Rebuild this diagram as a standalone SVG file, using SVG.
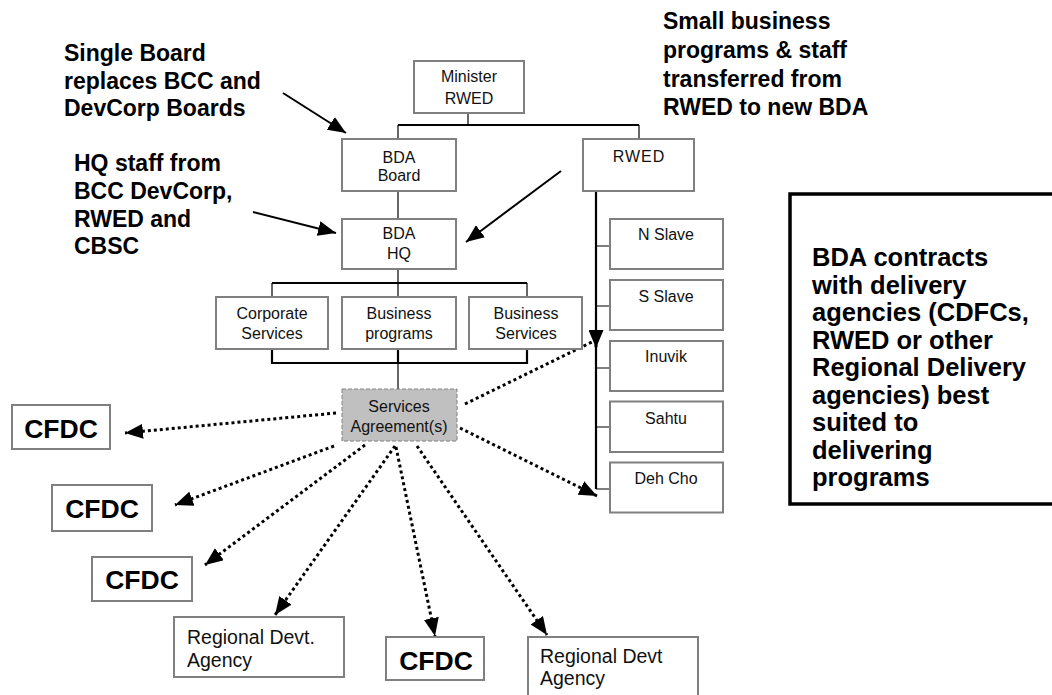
<svg xmlns="http://www.w3.org/2000/svg" width="1052" height="695" viewBox="0 0 1052 695">
<style>
.bx{fill:#fff;stroke:#808080;stroke-width:2}
.sa{fill:#c0c0c0;stroke:#808080;stroke-width:1;stroke-dasharray:4 2}
.t{font-family:"Liberation Sans",Arial,sans-serif;font-size:16px;fill:#111}
.rd{font-family:"Liberation Sans",Arial,sans-serif;font-size:19.5px;fill:#111}
.c{text-anchor:middle}
.ann{font-family:"Liberation Sans",Arial,sans-serif;font-size:23px;font-weight:bold;fill:#000}
.big{font-family:"Liberation Sans",Arial,sans-serif;font-size:25.5px;font-weight:bold;fill:#000}
.cf{font-family:"Liberation Sans",Arial,sans-serif;font-size:26.5px;font-weight:bold;fill:#000;text-anchor:middle}
.thin{stroke:#000;stroke-width:1.2;fill:none}
.thick{stroke:#000;stroke-width:2.2;fill:none}
.dot{stroke:#000;stroke-width:3;stroke-dasharray:3 3;fill:none;marker-end:url(#ah)}
.sol{stroke:#000;stroke-width:2;fill:none;marker-end:url(#ah)}
</style>
<defs>
<marker id="ah" markerUnits="userSpaceOnUse" markerWidth="18" markerHeight="15" refX="18" refY="7.5" orient="auto" viewBox="0 0 18 15"><path d="M0,0 L18,7.5 L0,15 z" fill="#000"/></marker>
</defs>
<rect width="1052" height="695" fill="#fff"/>

<g id="connectors">
<path class="thin" d="M468,113 V125"/>
<path class="thick" d="M398,125 H639"/>
<path class="thin" d="M398,125 V139 M639,125 V139"/>
<path class="thin" d="M398,191 V219"/>
<path class="thin" d="M398,269 V283"/>
<path class="thick" d="M272,283 H527"/>
<path class="thin" d="M272,283 V297 M398,283 V297 M527,283 V297"/>
<path class="thick" d="M272,349 V363 H527 V349 M398,349 V363"/>
<path class="thin" d="M398,363 V389"/>
<path class="thick" d="M596,191 V489"/>
<path class="thin" d="M596,246 H610 M596,306 H610 M596,368 H610 M596,427 H610 M596,489 H610"/>
<path class="sol" d="M283,93 L346,133"/>
<path class="sol" d="M253,212 L336,233"/>
<path class="sol" d="M561,171 L466,242"/>
<path class="dot" d="M336,413 L125,433"/>
<path class="dot" d="M334,446 L175,505"/>
<path class="dot" d="M365,445 L205,565"/>
<path class="dot" d="M395,446 L275,615"/>
<path class="dot" d="M396,447 L435,636"/>
<path class="dot" d="M417,446 L547,635"/>
<path class="dot" d="M460,428 L597,496"/>
<path class="dot" d="M465,404 L596,340 L596,348"/>
</g>

<g id="note-board"><text class="ann" x="64" y="61">Single Board</text><text class="ann" x="64" y="88.5">replaces BCC and</text><text class="ann" x="64" y="116">DevCorp Boards</text></g>
<g id="note-hq"><text class="ann" x="74" y="171">HQ staff from</text><text class="ann" x="74" y="198.5">BCC DevCorp,</text><text class="ann" x="74" y="226.5">RWED and</text><text class="ann" x="74" y="254">CBSC</text></g>
<g id="note-small"><text class="ann" x="663" y="29">Small business</text><text class="ann" x="663" y="57.5">programs &amp; staff</text><text class="ann" x="663" y="86.5">transferred from</text><text class="ann" x="663" y="115">RWED to new BDA</text></g>

<g id="note-contracts">
<rect x="790" y="194" width="290" height="310" fill="#fff" stroke="#000" stroke-width="3.5"/>
<text class="big" x="812" y="266">BDA contracts</text>
<text class="big" x="812" y="293.5">with delivery</text>
<text class="big" x="812" y="321">agencies (CDFCs,</text>
<text class="big" x="812" y="348.5">RWED or other</text>
<text class="big" x="812" y="376">Regional Delivery</text>
<text class="big" x="812" y="403.5">agencies) best</text>
<text class="big" x="812" y="431">suited to</text>
<text class="big" x="812" y="458.5">delivering</text>
<text class="big" x="812" y="486">programs</text>
</g>

<g id="minister"><rect class="bx" x="414" y="61" width="110" height="52"/><text class="t c" x="469" y="82">Minister</text><text class="t c" x="469" y="103.5">RWED</text></g>
<g id="bda-board"><rect class="bx" x="342" y="139" width="114" height="52"/><text class="t c" x="399" y="162.5">BDA</text><text class="t c" x="399" y="181">Board</text></g>
<g id="rwed"><rect class="bx" x="583" y="139" width="111" height="52"/><text class="t c" x="639" y="161.5" letter-spacing="1">RWED</text></g>
<g id="bda-hq"><rect class="bx" x="342" y="219" width="114" height="50"/><text class="t c" x="399" y="239">BDA</text><text class="t c" x="399" y="259">HQ</text></g>
<g id="corporate"><rect class="bx" x="216" y="297" width="112" height="52"/><text class="t c" x="272" y="319">Corporate</text><text class="t c" x="272" y="339">Services</text></g>
<g id="bus-programs"><rect class="bx" x="342" y="297" width="114" height="52"/><text class="t c" x="399" y="319">Business</text><text class="t c" x="399" y="339">programs</text></g>
<g id="bus-services"><rect class="bx" x="469" y="297" width="113" height="52"/><text class="t c" x="526" y="319">Business</text><text class="t c" x="526" y="339">Services</text></g>
<g id="services-agreement"><rect class="sa" x="342" y="389" width="115" height="52"/><text class="t c" x="399" y="411.5">Services</text><text class="t c" x="399" y="432">Agreement(s)</text></g>

<g id="n-slave"><rect class="bx" x="610" y="219" width="113" height="50"/><text class="t c" x="666" y="240">N Slave</text></g>
<g id="s-slave"><rect class="bx" x="610" y="280" width="113" height="50"/><text class="t c" x="666" y="302">S Slave</text></g>
<g id="inuvik"><rect class="bx" x="610" y="341" width="113" height="50"/><text class="t c" x="666" y="362">Inuvik</text></g>
<g id="sahtu"><rect class="bx" x="610" y="401.5" width="113" height="50.5"/><text class="t c" x="666" y="424">Sahtu</text></g>
<g id="deh-cho"><rect class="bx" x="610" y="462.5" width="113" height="50"/><text class="t c" x="666" y="484">Deh Cho</text></g>

<g id="cfdc1"><rect class="bx" x="12" y="405" width="98" height="44"/><text class="cf" x="61" y="438">CFDC</text></g>
<g id="cfdc2"><rect class="bx" x="52" y="485" width="100" height="46"/><text class="cf" x="102" y="518">CFDC</text></g>
<g id="cfdc3"><rect class="bx" x="92" y="557" width="100" height="44"/><text class="cf" x="142" y="588.5">CFDC</text></g>
<g id="rda1"><rect class="bx" x="174" y="617" width="170" height="60"/><text class="rd" x="187" y="644">Regional Devt.</text><text class="rd" x="187" y="667">Agency</text></g>
<g id="cfdc4"><rect class="bx" x="386" y="637" width="98" height="43"/><text class="cf" x="436" y="670">CFDC</text></g>
<g id="rda2"><rect class="bx" x="528" y="637" width="170" height="70"/><text class="rd" x="540" y="663">Regional Devt</text><text class="rd" x="540" y="685">Agency</text></g>
</svg>
